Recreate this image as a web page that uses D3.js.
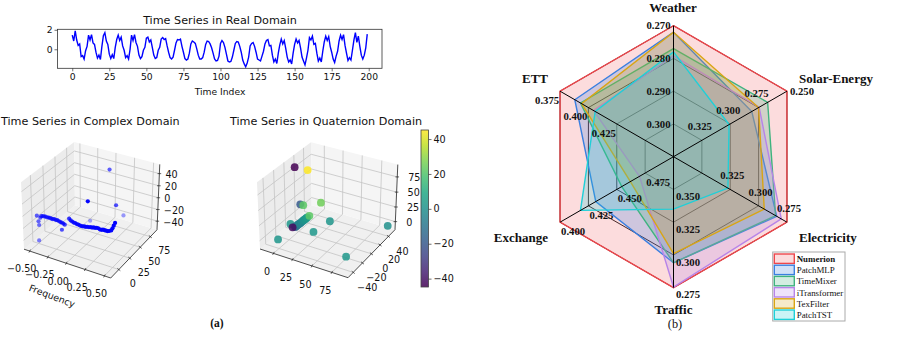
<!DOCTYPE html>
<html>
<head>
<meta charset="utf-8">
<script src="https://cdn.jsdelivr.net/npm/d3@7"></script>
<style>
  html, body { margin: 0; padding: 0; background: #fff; }
  svg { display: block; }
  text { font-family: "DejaVu Sans", sans-serif; fill: #111; }
  .serif { font-family: "Liberation Serif", serif; }
</style>
</head>
<body>
<svg id="chart" width="897" height="344"></svg>
<script>
//////// Data

// real domain series
const realValues = [
  1.45,0.85,1.9,0.95,0.4,0.55,-0.75,-0.65,-1.0,-0.15,
  0.3,1.45,0.95,1.5,0.65,0.5,-0.3,-0.9,-0.6,-1.05,
  0.3,1.4,1.7,0.85,0.5,-0.5,-0.95,-0.55,-0.95,0.2,
  1.0,1.45,0.9,1.25,0.35,-0.1,-0.85,-0.65,-1.0,0.0,
  1.45,0.9,1.5,0.7,0.3,-0.6,-0.95,-0.75,-0.1,0.2,
  1.15,1.25,0.75,0.95,0.2,-0.6,-0.95,-0.85,-0.1,0.2,
  1.05,1.2,1.0,1.1,0.35,-0.3,-0.85,-1.0,-0.8,-0.1,
  0.65,1.0,0.95,1.05,0.3,-0.3,-0.95,-1.1,-1.0,-0.4,
  0.55,0.85,0.75,0.6,0.05,-0.6,-1.0,-1.0,-0.85,-0.3,
  0.5,0.85,0.8,0.55,0.15,-0.4,-1.0,-1.2,-1.15,-0.7,
  0.6,0.9,0.7,0.2,-0.5,-1.2,-1.3,-1.25,-0.8,-0.1,
  0.6,0.8,0.75,0.3,-0.3,-1.1,-1.5,-1.8,-1.4,-0.8,
  0.35,0.6,0.7,0.3,-0.3,-1.0,-1.1,-1.2,-0.7,-0.2,
  0.55,0.9,1.0,0.35,0.4,-0.6,-1.3,-1.0,-1.45,-0.4,
  0.45,1.05,0.55,0.9,0.1,-0.8,-1.3,-1.1,-1.5,-0.4,
  0.5,1.05,0.65,0.9,0.15,-0.8,-1.2,-1.6,-0.9,-0.1,
  1.2,0.95,1.35,0.5,0.6,-0.4,-1.2,-0.9,-1.3,-0.2,
  0.75,1.35,0.9,1.3,0.3,-0.3,-1.0,-1.35,-0.7,-0.2,
  0.85,1.45,1.0,1.5,0.4,-0.4,-1.15,-0.85,-1.1,-0.1,
  0.95,1.7,0.7,1.35,0.3,-0.6,-1.0,-0.6,0.15,1.55
];

// complex domain scatter
const specFreq = [-0.49,-0.47,-0.45,-0.43,-0.41,-0.39,-0.37,-0.35,-0.33,-0.31,-0.29,-0.27,-0.25,-0.23,-0.21,-0.19,-0.17,-0.15,-0.13,
  -0.07,-0.05,-0.03,-0.01,0.01,0.03,0.05,0.07,0.09,0.11,0.13,0.15,0.17,0.19,0.21,0.23,0.25,0.27,0.29,0.31,0.33,0.35,0.37,0.39,0.41,0.43,0.45,0.47,0.48,0.49,0.5,
  0.1,-0.1,0.17,-0.17,0.3,0.25,-0.48,-0.5,-0.49];
const specReal = [0,1,0,0,0,0,0,0,0,0,0,0,0,0,0,0,0,0,0,
  0,0,0,0,0,0,0,0,0,0,0,0,0,0,0,0,0,0,0,0,0,0,0,0,0,0,0,1,2,3,4,
  60,50,1,0,41,68,-1.5,-1.5,1];
const specImag = [-17,-11,-7,-6,-6,-5.5,-6,-5.5,-5.5,-6,-6,-5,-6,-5.5,-6,-7,-7,-8,-9,
  3,1,0,-1,-1,-2,-2,-2.5,-3,-2.5,-2,-2,-1,-1,0,0,1,1,2,2,1,1,2,2,2,2,3,4,7,11,15,
  50,-36,39,-19,11,-26,-48,-7,-24];

// quaternion domain scatter
const quatX = [-5.5,11.5,1,5,15,13,27,91,32,86,-1,-13,-3,
  -3,-2,-1,0,1,2,3,4,5,6,7,8,9,10];
const quatY = [2.5,2.5,2.5,2.5,24,2.5,24,45,-19,-40,-40,2.5,-8,
  -3,-3,-2,-2,-1,-1,0,0,1,1,1,2,2,2.5];
const quatZ = [90,91,31,31,24.5,16,-3,-1,11.5,8,1,-8,-2.5,
  -5.5,-4,-3,-1,0,1,2,4,5,7,8,9,11,12];
const quatC = [-45,45,-20,22,25,22,2,0,3,3,2,3,-42,
  -18,-14,-10,-8,-6,-4,-5,-3,-2,0,1,2,3,4];

// radar
const radarAxes = ["Weather","Solar-Energy","Electricity","Traffic","Exchange","ETT"];
// value at the centre and value at the rim of each spoke
const radarCentre = [0.31,0.35,0.375,0.375,0.5,0.475];
const radarRim = [0.27,0.25,0.275,0.275,0.4,0.375];
const radarTicks = [
  [0.27,0.28,0.29,0.3],
  [0.25,0.275,0.3,0.325],
  [0.275,0.3,0.325],
  [0.275,0.3,0.325,0.35],
  [0.4,0.425,0.45,0.475],
  [0.375,0.4,0.425]
];
const modelNames = ["Numerion","PatchMLP","TimeMixer","iTransformer","TexFilter","PatchTST"];
const numerion = [0.27,0.25,0.275,0.275,0.4,0.375];
const patchMLP = [0.272,0.281,0.284,0.294,0.4315,0.388];
const timeMixer = [0.277,0.267,0.285,0.294,0.4544,0.393];
const iTransformer = [0.2792,0.2745,0.28,0.2755,0.47,0.4045];
const texFilter = [0.272,0.275,0.295,0.301,0.462,0.394];
const patchTST = [0.278,0.301,0.327,0.335,0.418,0.406];
const modelValues = [numerion,patchMLP,timeMixer,iTransformer,texFilter,patchTST];
const modelColors = ["#ee474c","#3a7fe0","#3fb37f","#b784e8","#d9a514","#1fd0d8"];

var svg = d3.select("#chart");
var fmt2 = d3.format(".2f");
var fillAlpha = m => m == 0 ? 0.19 : 0.23;

//////// Real domain line
var gReal = svg.append("g");
var xReal = d3.scaleLinear().domain([-9.95,208.95]).range([57.5,382]);
var yReal = d3.scaleLinear().domain([-1.95,2.05]).range([68.3,29.3]);
gReal.append("path")
  .datum(realValues)
  .attr("fill","none").attr("stroke","#0000ff").attr("stroke-width",1.4)
  .attr("d", d3.line().x((d,i) => xReal(i)).y(d => yReal(d)));
gReal.append("rect").attr("x",57.5).attr("y",29.3).attr("width",324.5).attr("height",39)
  .attr("fill","none").attr("stroke","#333").attr("stroke-width",0.8);
var axXReal = gReal.append("g").attr("transform","translate(0,68.3)")
  .call(d3.axisBottom(xReal).tickValues([0,25,50,75,100,125,150,175,200]).tickSize(3).tickPadding(2));
var axYReal = gReal.append("g").attr("transform","translate(57.5,0)")
  .call(d3.axisLeft(yReal).tickValues([0,2]).tickFormat(d3.format("d")).tickSize(3).tickPadding(2));
[axXReal,axYReal].forEach(a => {
  a.select(".domain").remove();
  a.selectAll("text").style("font-family",'"DejaVu Sans"').style("font-size","9.2px").attr("fill","#111");
  a.selectAll("line").attr("stroke","#333").attr("stroke-width",0.7);
});
gReal.append("text").attr("x",220).attr("y",24).attr("text-anchor","middle").style("font-size","11.2px").text("Time Series in Real Domain");
gReal.append("text").attr("x",220).attr("y",94.5).attr("text-anchor","middle").style("font-size","9.2px").text("Time Index");

//////// 3D helper, same view as matplotlib (elev 30, azim -60)
function makeProjection(dom, px) {
  const size = [1.125,1.125,0.844], dist = 10;
  const el = 30*Math.PI/180, az = -60*Math.PI/180;
  const w = [Math.cos(el)*Math.cos(az), Math.cos(el)*Math.sin(az), Math.sin(el)];
  const c = size.map(s => s/2);
  const eye = c.map((v,i) => v + dist*w[i]);
  const un = Math.hypot(w[1],w[0]);
  const u = [-w[1]/un, w[0]/un, 0];
  const v = [w[1]*u[2]-w[2]*u[1], w[2]*u[0]-w[0]*u[2], w[0]*u[1]-w[1]*u[0]];
  const dot = (a,b) => a[0]*b[0]+a[1]*b[1]+a[2]*b[2];
  function raw(f) {
    const d = f.map((t,i) => t*size[i]-eye[i]);
    const ze = dot(w,d);
    return [dot(u,d)/-ze, dot(v,d)/-ze, -ze];
  }
  const sx = d3.scaleLinear().domain([raw([0,0,0])[0], raw([1,1,0])[0]]).range([px.leftX, px.rightX]);
  const sy = d3.scaleLinear().domain([raw([1,0,0])[1], raw([0,1,1])[1]]).range([px.frontY, px.topY]);
  const fx = d3.scaleLinear().domain(dom.x).range([0,1]);
  const fy = d3.scaleLinear().domain(dom.y).range([0,1]);
  const fz = d3.scaleLinear().domain(dom.z).range([0,1]);
  const unit = f => { const r = raw(f); return [sx(r[0]), sy(r[1]), r[2]]; };
  const data = (x,y,z) => unit([fx(x),fy(y),fz(z)]);
  return {unit, data, fx, fy, fz};
}

function drawBox(g, proj, ticks, labels) {
  const poly = pts => pts.map(p => proj.unit(p).slice(0,2).join(",")).join(" ");
  g.append("polygon").attr("points",poly([[0,0,0],[1,0,0],[1,1,0],[0,1,0]])).attr("fill","#f0f0f0");
  g.append("polygon").attr("points",poly([[0,0,0],[0,1,0],[0,1,1],[0,0,1]])).attr("fill","#ececec");
  g.append("polygon").attr("points",poly([[0,1,0],[1,1,0],[1,1,1],[0,1,1]])).attr("fill","#f5f5f5");
  const seg = (a,b,col,w) => {
    const p = proj.unit(a), q = proj.unit(b);
    g.append("line").attr("x1",p[0]).attr("y1",p[1]).attr("x2",q[0]).attr("y2",q[1])
      .attr("stroke",col).attr("stroke-width",w);
  };
  const grid = "#c4c4c4";
  ticks.x.forEach(t => { const f = proj.fx(t);
    seg([f,0,0],[f,1,0],grid,0.8); seg([f,1,0],[f,1,1],grid,0.8); });
  ticks.y.forEach(t => { const f = proj.fy(t);
    seg([0,f,0],[1,f,0],grid,0.8); seg([0,f,0],[0,f,1],grid,0.8); });
  ticks.z.forEach(t => { const f = proj.fz(t);
    seg([0,0,f],[0,1,f],grid,0.8); seg([0,1,f],[1,1,f],grid,0.8); });
  seg([0,0,0],[1,0,0],"#222",0.8);
  seg([1,0,0],[1,1,0],"#222",0.8);
  seg([1,1,0],[1,1,1],"#222",0.8);

  const tick = (p,dx,dy,txt,lx,ly,anchor) => {
    g.append("line").attr("x1",p[0]-dx).attr("y1",p[1]-dy).attr("x2",p[0]+dx).attr("y2",p[1]+dy)
      .attr("stroke","#222").attr("stroke-width",0.7);
    g.append("text").attr("x",p[0]+lx).attr("y",p[1]+ly).attr("text-anchor",anchor)
      .attr("dy","0.35em").style("font-size","9.6px").text(txt);
  };
  ticks.x.forEach(t => tick(proj.unit([proj.fx(t),0,0]),-0.8,1.5,labels.x(t),labels.xOff[0],labels.xOff[1],"middle"));
  ticks.y.forEach(t => tick(proj.unit([1,proj.fy(t),0]),1.5,1.2,labels.y(t),labels.yOff[0],labels.yOff[1],"middle"));
  ticks.z.forEach(t => tick(proj.unit([1,1,proj.fz(t)]),1.8,0,labels.z(t),labels.zOff[0],labels.zOff[1],"start"));
}
var minusFmt = d3.format("");

//////// Complex domain
var gCx = svg.append("g");
var projCx = makeProjection({x:[-0.58,0.58],y:[-18,92],z:[-55,55]},
  {leftX:24,rightX:157,frontY:278,topY:142});
drawBox(gCx, projCx, {x:[-0.5,-0.25,0,0.25,0.5],y:[0,25,50,75],z:[-40,-20,0,20,40]},
  {x:v => fmt2(v).replace("-","\u2212"), y:minusFmt, z:v => minusFmt(v).replace("-","\u2212"),
   xOff:[-8,18], yOff:[14,14], zOff:[6,1]});

var cxPts = specFreq.map((f,i) => projCx.data(f,specReal[i],specImag[i]));
var cxDepth = d3.extent(cxPts, p => p[2]);
var cxAlpha = d3.scaleLinear().domain([cxDepth[1],cxDepth[0]]).range([0.35,1]);
gCx.selectAll("circle").data(cxPts.slice().sort((a,b) => b[2]-a[2])).join("circle")
  .attr("cx",d => d[0]).attr("cy",d => d[1]).attr("r",2.1)
  .attr("fill","#0000ff").attr("opacity",d => cxAlpha(d[2]));
gCx.append("text").attr("x",1).attr("y",124.5).style("font-size","11.2px").text("Time Series in Complex Domain");
gCx.append("text").attr("transform","translate(52,296) rotate(21)").attr("text-anchor","middle")
  .attr("dy","0.35em").style("font-size","9.4px").text("Frequency");

//////// Quaternion domain
var gQ = svg.append("g");
var projQ = makeProjection({x:[-18,95],y:[-51,56],z:[-14,95]},
  {leftX:260,rightX:395,frontY:277.7,topY:142.3});
drawBox(gQ, projQ, {x:[0,25,50,75],y:[-40,-20,0,20,40],z:[0,25,50,75]},
  {x:minusFmt, y:v => minusFmt(v).replace("-","\u2212"), z:minusFmt,
   xOff:[-6.5,18.5], yOff:[14,15], zOff:[11,1]});

var colorScale = d3.scaleSequential(d3.interpolateViridis).domain([-45,45]);
var qPts = quatX.map((x,i) => { const p = projQ.data(x,quatY[i],quatZ[i]); return {p:p, c:quatC[i]}; });
gQ.selectAll("circle").data(qPts.slice().sort((a,b) => b.p[2]-a.p[2])).join("circle")
  .attr("cx",d => d.p[0]).attr("cy",d => d.p[1]).attr("r",3.9)
  .attr("fill",d => colorScale(d.c)).attr("opacity",0.85);
gQ.append("text").attr("x",230).attr("y",124.5).style("font-size","11.2px").text("Time Series in Quaternion Domain");

// colorbar
var cbScale = d3.scaleLinear().domain([-44.8,45.2]).range([287,130]);
var defs = svg.append("defs");
var grad = defs.append("linearGradient").attr("id","viridisBar").attr("x1",0).attr("x2",0).attr("y1",1).attr("y2",0);
d3.range(0,1.01,0.1).forEach(t => grad.append("stop").attr("offset",t).attr("stop-color",d3.interpolateViridis(t)));
gQ.append("rect").attr("x",421).attr("y",130).attr("width",7.5).attr("height",157)
  .attr("fill","url(#viridisBar)").attr("opacity",0.85);
gQ.append("rect").attr("x",421).attr("y",130).attr("width",7.5).attr("height",157)
  .attr("fill","none").attr("stroke","#444").attr("stroke-width",0.8);
var cbAxis = gQ.append("g").attr("transform","translate(428.5,0)")
  .call(d3.axisRight(cbScale).tickValues([-40,-20,0,20,40]).tickSize(3).tickPadding(2)
    .tickFormat(v => minusFmt(v).replace("-","\u2212")));
cbAxis.select(".domain").remove();
cbAxis.selectAll("text").style("font-family",'"DejaVu Sans"').style("font-size","9.6px").attr("fill","#111");
cbAxis.selectAll("line").attr("stroke","#333").attr("stroke-width",0.7);

svg.append("text").attr("class","serif").attr("x",217).attr("y",327).attr("text-anchor","middle")
  .style("font-size","11.5px").style("font-weight","bold").text("(a)");

//////// Radar
var gRadar = svg.append("g").attr("transform","translate(673.5,156.7)");
var radius = 131;
var angle = i => i*Math.PI/3;
var radial = radarAxes.map((a,i) => d3.scaleLinear().domain([radarCentre[i],radarRim[i]]).range([0,radius]));
var spokePoint = (i,r) => [r*Math.sin(angle(i)), -r*Math.cos(angle(i))];
var hexLine = d3.line().curve(d3.curveLinearClosed);

[0.25,0.5,0.75,1].forEach(f => {
  gRadar.append("path").attr("d",hexLine(radarAxes.map((a,i) => spokePoint(i,f*radius))))
    .attr("fill","none").attr("stroke","#222").attr("stroke-width",1);
});
modelValues.forEach((vals,m) => {
  gRadar.append("path")
    .attr("d",hexLine(vals.map((v,i) => spokePoint(i,radial[i](v)))))
    .attr("fill",modelColors[m]).attr("fill-opacity",fillAlpha(m))
    .attr("stroke",modelColors[m]).attr("stroke-width",1.4);
});
radarAxes.forEach((a,i) => {
  const e = spokePoint(i,radius);
  gRadar.append("line").attr("x1",0).attr("y1",0).attr("x2",e[0]).attr("y2",e[1])
    .attr("stroke","#000").attr("stroke-width",1);
});

// tick label placement per spoke: offset from the tick and anchor
var tickOffsets = [[-3,0,"end"],[-2,-14,"middle"],[2,-14,"middle"],[2.5,7,"start"],[13,9,"middle"],[-13,9,"middle"]];
radarTicks.forEach((ts,i) => ts.forEach((t,k) => {
  const p = spokePoint(i,radial[i](t));
  let off = tickOffsets[i];
  if (i == 1 && k == 0) off = [3,0,"start"];
  gRadar.append("text").attr("class","serif").attr("x",p[0]+off[0]).attr("y",p[1]+off[1])
    .attr("dy","0.35em").attr("text-anchor",off[2])
    .style("font-size","10.7px").style("font-weight","bold").text(d3.format(".3f")(t));
}));

var axisLabelPos = [[673,7,"middle"],[799,78,"start"],[799,237,"start"],[673.5,309,"middle"],[548,237,"end"],[548,78,"end"]];
radarAxes.forEach((a,i) => {
  svg.append("text").attr("class","serif").attr("x",axisLabelPos[i][0]).attr("y",axisLabelPos[i][1])
    .attr("dy","0.35em").attr("text-anchor",axisLabelPos[i][2])
    .style("font-size","13px").style("font-weight","bold").text(a);
});
svg.append("text").attr("class","serif").attr("x",675).attr("y",327.5).attr("text-anchor","middle")
  .style("font-size","12.3px").text("(b)");

//////// Legend
var gLeg = svg.append("g").attr("transform","translate(772.7,252)");
gLeg.append("rect").attr("width",72.3).attr("height",69).attr("fill","#fff").attr("stroke","#aaa").attr("stroke-width",1);
modelNames.forEach((name,m) => {
  const y = 2 + m*11.2;
  gLeg.append("rect").attr("x",1.6).attr("y",y).attr("width",20).attr("height",9.4)
    .attr("fill",modelColors[m]).attr("fill-opacity",fillAlpha(m))
    .attr("stroke",modelColors[m]).attr("stroke-width",1.4);
  gLeg.append("text").attr("class","serif").attr("x",24).attr("y",y+4.9).attr("dy","0.35em")
    .style("font-size","8.9px").style("font-weight",m == 0 ? "bold" : "normal").text(name);
});
</script>
</body>
</html>
